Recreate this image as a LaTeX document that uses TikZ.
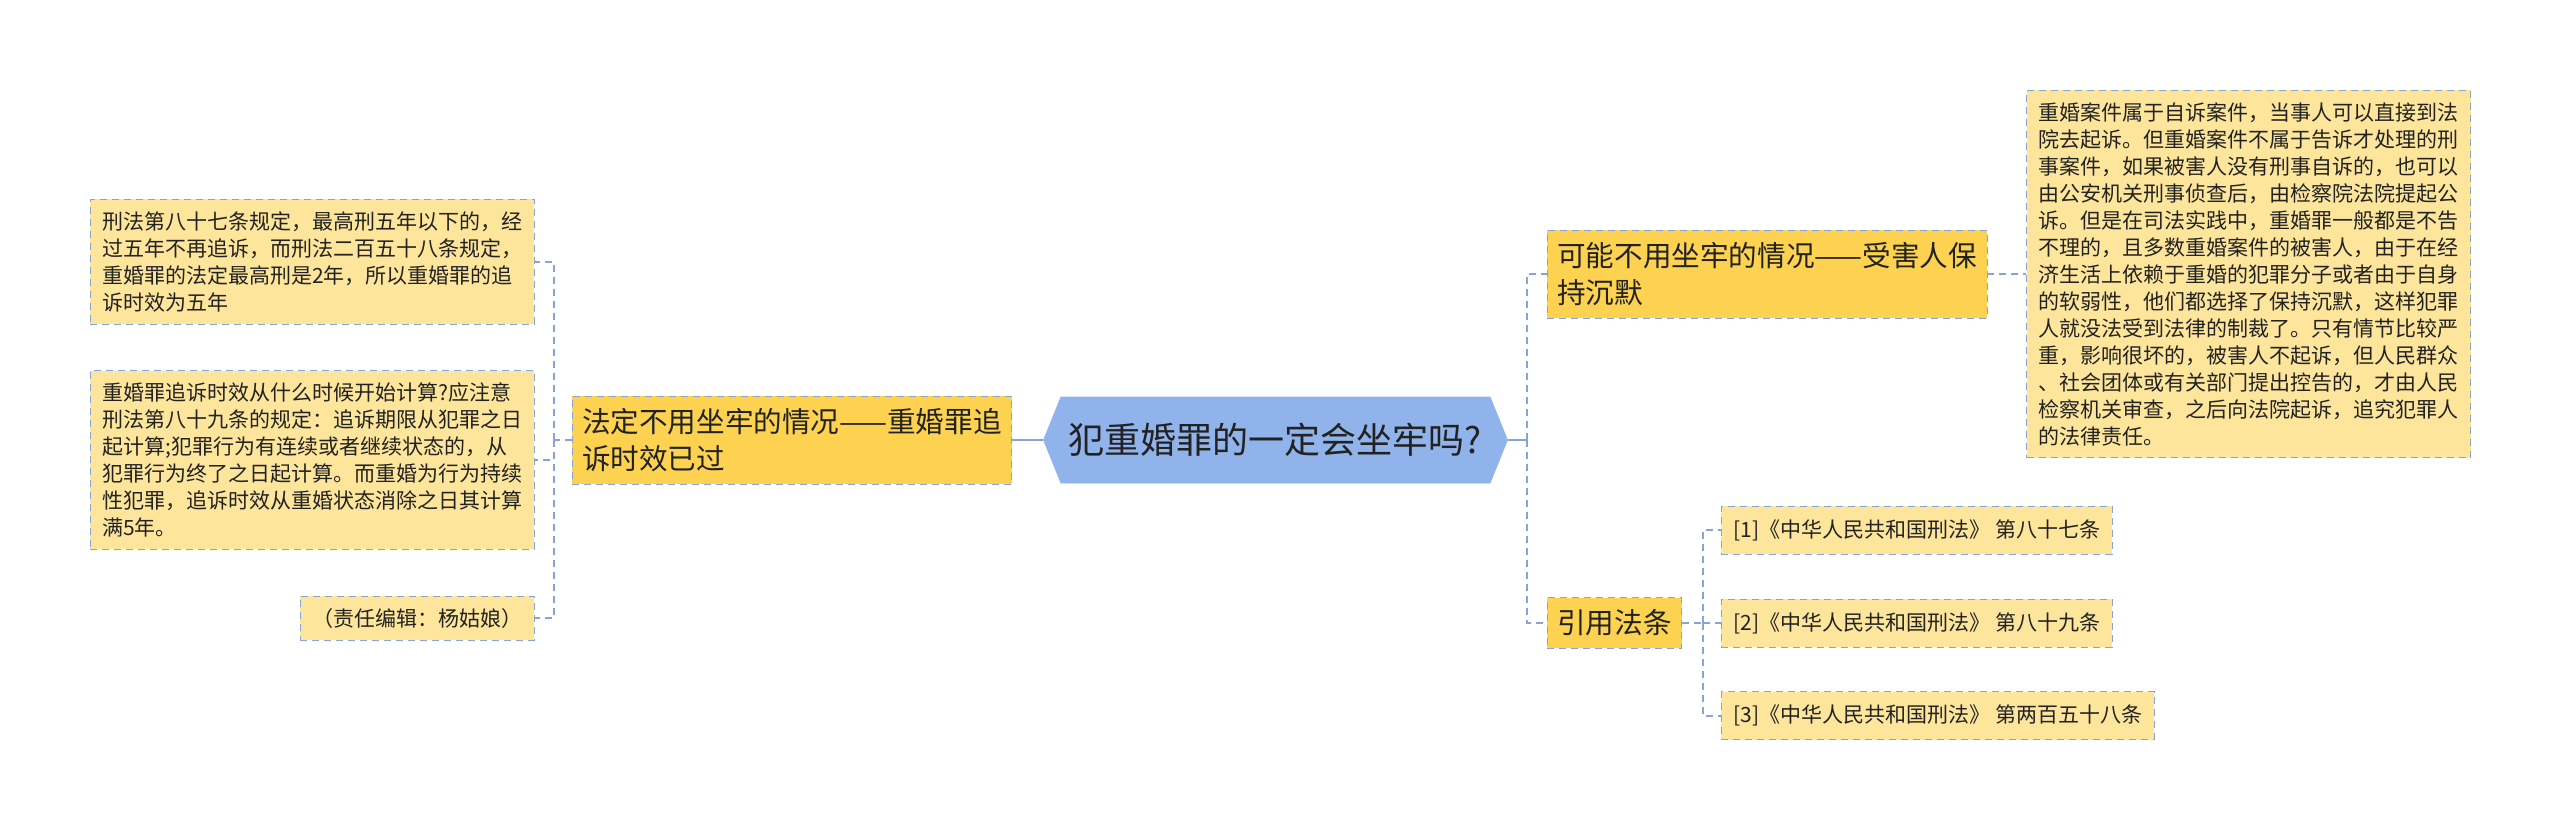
\documentclass[tikz,border=0pt]{standalone}
\usepackage{fontspec}
\setmainfont{Noto Sans CJK SC}
\usepackage{xcolor}
\usepackage{tikz}
\usetikzlibrary{positioning,shapes.symbols}

\definecolor{hubblue}{RGB}{143,179,234}
\definecolor{lineblue}{RGB}{137,163,214}
\definecolor{topicyellow}{RGB}{253,210,80}
\definecolor{leafyellow}{RGB}{253,229,155}
\definecolor{inkgray}{RGB}{34,34,34}

\begin{document}
\begin{tikzpicture}[x=1pt, y=-1pt, text=inkgray,
		hub/.style={signal, signal to=west and east, signal pointer angle=136,
		fill=hubblue, draw=hubblue, font=\fontsize{18}{22}\selectfont,
		minimum height=43pt, minimum width=222pt, inner xsep=4pt},
		topic/.style={draw=lineblue, dash pattern=on 3.5pt off 2.5pt, fill=topicyellow,
		align=left, font=\fontsize{14.3}{18.8}\selectfont, inner xsep=5pt, inner ysep=6pt},
		leaf/.style={draw=lineblue, dash pattern=on 3.5pt off 2.5pt, fill=leafyellow,
		align=left, font=\fontsize{10.5}{13.5}\selectfont, inner xsep=6pt, inner ysep=6pt},
		ref/.style={leaf, minimum height=24pt},
		link/.style={draw=lineblue, line width=1pt, dash pattern=on 3.5pt off 2.5pt},
		hubline/.style={draw=lineblue, line width=1.1pt}]

		\fill[white] (0,0) rectangle (1280,415.5);
		\useasboundingbox (0,0) rectangle (1280,415.5);

		\node[hub] (hub) at (637.75,220) {犯重婚罪的一定会坐牢吗?};

		% left side
		\node[topic, left=15.5pt of hub] (lapse) {法定不用坐牢的情况——重婚罪追\\诉时效已过};
		\node[leaf, left=18.5pt of lapse, yshift=-10pt] (rule89) {重婚罪追诉时效从什么时候开始计算?应注意\\刑法第八十九条的规定：追诉期限从犯罪之日\\起计算;犯罪行为有连续或者继续状态的，从\\犯罪行为终了之日起计算。而重婚为行为持续\\性犯罪，追诉时效从重婚状态消除之日其计算\\满5年。};
		\node[leaf, above=23pt of rule89.north east, anchor=south east] (rule87) {刑法第八十七条规定，最高刑五年以下的，经\\过五年不再追诉，而刑法二百五十八条规定，\\重婚罪的法定最高刑是2年，所以重婚罪的追\\诉时效为五年};
		\node[leaf, below=23pt of rule89.south east, anchor=north east] (editor) {（责任编辑：杨姑娘）};

		% right side
		\node[topic, right=19.5pt of hub, yshift=83pt] (silent) {可能不用坐牢的情况——受害人保\\持沉默};
		\node[leaf, right=19.5pt of silent] (victim) {重婚案件属于自诉案件，当事人可以直接到法\\院去起诉。但重婚案件不属于告诉才处理的刑\\事案件，如果被害人没有刑事自诉的，也可以\\由公安机关刑事侦查后，由检察院法院提起公\\诉。但是在司法实践中，重婚罪一般都是不告\\不理的，且多数重婚案件的被害人，由于在经\\济生活上依赖于重婚的犯罪分子或者由于自身\\的软弱性，他们都选择了保持沉默，这样犯罪\\人就没法受到法律的制裁了。只有情节比较严\\重，影响很坏的，被害人不起诉，但人民群众\\、社会团体或有关部门提出控告的，才由人民\\检察机关审查，之后向法院起诉，追究犯罪人\\的法律责任。};
		\node[topic, right=19.5pt of hub, yshift=-91.5pt] (cite) {引用法条};
		\node[ref, right=19.5pt of cite] (ref2) {[2]《中华人民共和国刑法》 第八十九条};
		\node[ref, above=22pt of ref2.north west, anchor=south west] (ref1) {[1]《中华人民共和国刑法》 第八十七条};
		\node[ref, below=22pt of ref2.south west, anchor=north west] (ref3) {[3]《中华人民共和国刑法》 第两百五十八条};

		% connectors
		\draw[hubline] (hub.west) -- (lapse.east);
		\draw[link] (lapse.west) -- ++(-9,0) coordinate (ltrunk);
		\foreach \n in {rule87, rule89, editor}{
			\draw[link] (ltrunk) |- (\n.east);
		}
		\draw[hubline] (hub.east) -- ++(9.5,0) coordinate (rtrunk);
		\foreach \n in {silent, cite}{
			\draw[link] (rtrunk) |- (\n.west);
		}
		\draw[link] (silent.east) -- (victim.west);
		\draw[link] (cite.east) -- ++(10.5,0) coordinate (ctrunk);
		\foreach \n in {ref1, ref2, ref3}{
			\draw[link] (ctrunk) |- (\n.west);
		}
	\end{tikzpicture}
\end{document}
